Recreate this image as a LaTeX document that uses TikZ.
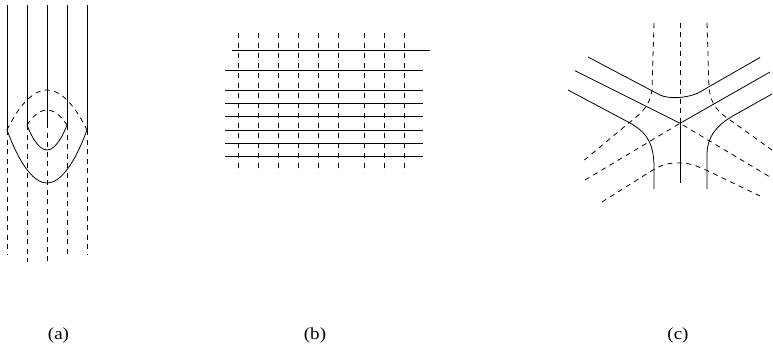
\documentclass[tikz,border=0pt]{standalone}
\usepackage{fontspec}
\setmainfont{Liberation Serif}
\begin{document}
\begin{tikzpicture}[x=1pt,y=-1pt,
  ln/.style={line width=0.8pt,black},
  dl/.style={line width=0.8pt,black,dash pattern=on 5pt off 4.5pt},
  lab/.style={font=\fontsize{17}{20}\selectfont,inner sep=0pt,xscale=1.12}]
\useasboundingbox (0,0) rectangle (773,350);
% ---------- (a)
\foreach \x/\y in {7/130,27/125,47/123,67/125,87/130}{
  \draw[ln] (\x,5) -- (\x,\y);
}
\foreach \x/\y/\e in {7/130/255,27/125/262,47/123/262,67/125/257,87/130/255}{
  \draw[dl] (\x,\y) -- (\x,\e);
}
\draw[ln] (7,130) parabola bend (47,183) (87,130);
\draw[ln] (27,125) parabola bend (47,150) (67,125);
\draw[dl] (7,130) parabola bend (47,90) (87,130);
\draw[dl] (27,125) parabola bend (47,110) (67,125);
% ---------- (b)
\foreach \x in {238,258,278,298,318,338,364,384,404}{
  \draw[dl,dash pattern=on 5pt off 5pt] (\x,33) -- (\x,173);
}
\draw[ln] (232,50.5) -- (430,50.5);
\foreach \y in {70.5,90.5,103.5,116.5,130,143.5,156.5}{
  \draw[ln] (225,\y) -- (423,\y);
}
% ---------- (c)
\coordinate (J) at (680,123.3);
\draw[ln] (575,70.7) -- (J) -- (770,72);
\draw[ln] (J) -- (680,183);
\draw[ln] (588,57) -- (660,95) .. controls (668,99) and (690,99.5) .. (705,89) -- (760,57.5);
\draw[ln] (568,90) -- (630,123) .. controls (648,133) and (654,145) .. (654,168) -- (654,189);
\draw[ln] (772,94) -- (731,117) .. controls (715,127) and (707,138) .. (707,155) -- (707,189);
\draw[dl] (680,23) -- (J);
\draw[dl] (585,180) -- (J) -- (770,177);
\draw[dl] (654,23) -- (652,90) .. controls (650,105) and (642,113) .. (630,122) -- (582,162);
\draw[dl] (707,23) -- (709,88) .. controls (711,105) and (718,112) .. (730,120) -- (772,150);
\draw[dl] (602,202) -- (652,170.5) .. controls (664,163) and (672,163) .. (680,163)
  .. controls (690,163) and (697,166) .. (707,170.5) -- (760,196);
% ---------- labels
\node[lab] (la) at (58.5,335) {(a)};
\node[lab] (lb) at (315,335) {(b)};
\node[lab] (lc) at (678,335) {(c)};
\end{tikzpicture}
\end{document}
